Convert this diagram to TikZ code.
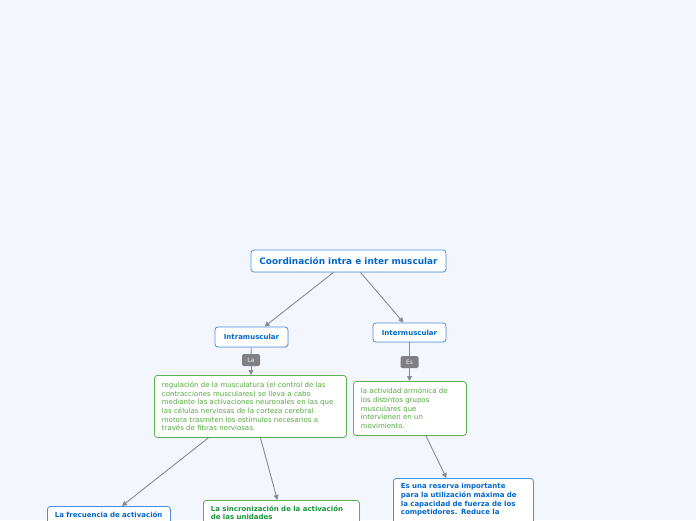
\documentclass[tikz,border=0pt]{standalone}
\usepackage{fontspec}
\setmainfont{DejaVu Sans}
\usetikzlibrary{arrows.meta, positioning, shadows}
\definecolor{pagebg}{RGB}{244,246,253}
\definecolor{topicblue}{RGB}{74,144,226}
\definecolor{topictext}{RGB}{0,102,204}
\definecolor{notegreen}{RGB}{92,179,80}
\definecolor{notetext}{RGB}{84,168,64}
\definecolor{strongreen}{RGB}{24,150,60}
\definecolor{linkgray}{RGB}{136,138,146}
\definecolor{taggray}{RGB}{128,128,132}
\tikzset{
    mmtopic/.style={rectangle, draw=topicblue, fill=white, rounded corners=3pt, line width=0.8pt, text=topictext, font=\bfseries\fontsize{7}{8.7}\selectfont, align=center, inner sep=0pt, drop shadow={opacity=0.12, shadow xshift=0.8pt, shadow yshift=-1pt}},
    mmnote/.style={rectangle, draw=#1, fill=white, rounded corners=3pt, line width=0.8pt, align=left, inner xsep=7.5pt, inner ysep=5pt, drop shadow={opacity=0.12, shadow xshift=0.8pt, shadow yshift=-1pt}},
    mmtag/.style={rectangle, fill=taggray, rounded corners=1.5pt, text=white!90!taggray, font=\fontsize{6}{6}\selectfont, minimum width=18pt, minimum height=12pt, inner sep=0pt},
    mmarrow/.style={-{Triangle[length=5pt, width=5pt]}, linkgray, line width=0.9pt},
    mmline/.style={linkgray, line width=0.9pt}
}

\begin{document}
\begin{tikzpicture}[x=1pt, y=-1pt]

\fill[pagebg] (0,0) rectangle (696,520);
\useasboundingbox (0,0) rectangle (696,520);
\clip (0,0) rectangle (696,520);

\node[mmtopic, minimum width=195pt, minimum height=22pt, font=\bfseries\fontsize{8.9}{10}\selectfont] (root) at (348.5,261) {Coordinación intra e inter muscular};
\node[mmtopic, minimum width=73pt, minimum height=20pt] (intra) at (251.5,337) {Intramuscular};
\node[mmtopic, minimum width=73pt, minimum height=19pt] (inter) at (409.5,332.5) {Intermuscular};

\node[mmtag] (tagla) at (251,360) {La};
\node[mmtag] (tages) at (409.5,362) {Es};

\node[mmnote=notegreen, text=notetext, font=\fontsize{7}{8.7}\selectfont, text width=177pt, minimum height=62pt, anchor=north west] (regul) at (154,375) {regulación de la musculatura (el control de las\\contracciones musculares) se lleva a cabo\\mediante las activaciones neuronales en las que\\las células nerviosas de la corteza cerebral\\motora trasmiten los estímulos necesarios a\\través de fibras nerviosas.};
\node[mmnote=notegreen, text=notetext, font=\fontsize{7}{8.7}\selectfont, text width=98pt, minimum height=54pt, anchor=north west] (armon) at (353,381) {la actividad armónica de\\los distintos grupos\\musculares que\\intervienen en un\\movimiento.};

\node[mmnote=topicblue, text=topictext, font=\bfseries\fontsize{7}{8.7}\selectfont, text width=108pt, text depth=14pt, anchor=north west] (frecu) at (47,506) {La frecuencia de activación};
\node[mmnote=notegreen, text=strongreen, font=\bfseries\fontsize{7}{8.7}\selectfont, text width=141pt, text depth=24pt, anchor=north west] (sincro) at (203,500) {La sincronización de la activación\\de las unidades};
\node[mmnote=topicblue, text=topictext, font=\bfseries\fontsize{7}{8.7}\selectfont, text width=125pt, text depth=40pt, anchor=north west] (reserva) at (393,478) {Es una reserva importante\\para la utilización máxima de\\la capacidad de fuerza de los\\competidores. Reduce la};

% connectors
\draw[mmarrow] ([xshift=-15pt]root.south) -- ([xshift=13pt]intra.north);
\draw[mmarrow] ([xshift=12pt]root.south) -- ([xshift=-6pt]inter.north);
\draw[mmline] (intra) -- (tagla);
\draw[mmarrow] (tagla) -- (regul.north -| tagla);
\draw[mmline] (inter) -- (tages);
\draw[mmarrow] (tages) -- (armon.north -| tages);
\draw[mmarrow] ([xshift=-42pt]regul.south) -- ([xshift=13pt]frecu.north);
\draw[mmarrow] ([xshift=10pt]regul.south) -- ([xshift=-4pt]sincro.north);
\draw[mmarrow] ([xshift=16pt]armon.south) -- ([xshift=-17pt]reserva.north);

\end{tikzpicture}
\end{document}
